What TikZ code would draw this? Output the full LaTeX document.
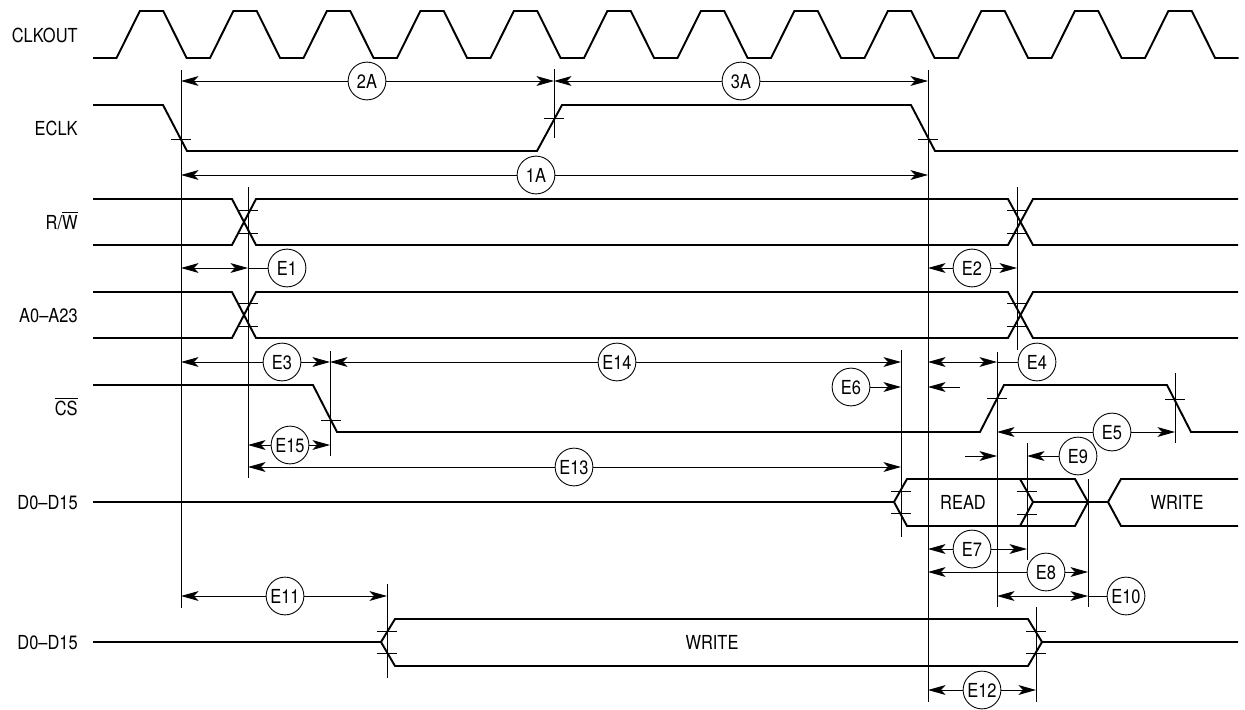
\documentclass[tikz,border=0pt]{standalone}
\usepackage{fontspec}
\setmainfont{TeX Gyre Heros}[FakeStretch=0.85]
\usetikzlibrary{arrows.meta}

\begin{document}
\begin{tikzpicture}[
  x=0.02cm, y=-0.02cm,
  >={Stealth[length=10pt,width=5.6pt,inset=2.6pt]},
  sig/.style={line width=1.1pt},
  ref/.style={line width=0.5pt},
  tick/.style={line width=0.5pt},
  dim/.style={line width=0.5pt},
  lbl/.style={anchor=east,inner sep=0pt,text height=8.1pt,text depth=0pt,font=\fontsize{11}{13}\selectfont},
  txt/.style={inner sep=0pt,text height=8.1pt,text depth=0pt,font=\fontsize{11}{13}\selectfont},
  tag/.style={circle,draw,line width=0.5pt,fill=white,minimum size=21.5pt,inner sep=0pt,text height=8.1pt,text depth=0pt,font=\fontsize{11}{13}\selectfont},
]
\useasboundingbox (0,0) rectangle (1245,710);

% Signal names
\node[lbl] (nclk) at (78,35) {CLKOUT};
\node[lbl] (neclk) at (78,128) {ECLK};
\node[lbl] (nrw) at (78,222) {R/$\overline{\mbox{W}}$};
\node[lbl] (naddr) at (78,315) {A0--A23};
\node[lbl] (ncs) at (78,408) {$\overline{\mbox{CS}}$};
\node[lbl] (nread) at (78,502) {D0--D15};
\node[lbl] (nwrite) at (78,642) {D0--D15};

% Reference instants
\coordinate (fall1) at (181,0);
\coordinate (rise1) at (554,0);
\coordinate (fall2) at (928,0);
\coordinate (addr) at (248,0);
\coordinate (addrh) at (1017,0);
\coordinate (csa) at (330,0);
\coordinate (csn) at (997,0);
\coordinate (csn2) at (1175,0);
\coordinate (rdv) at (901,0);
\coordinate (rdh) at (1027,0);
\coordinate (rdz) at (1088,0);
\coordinate (wrv) at (387,0);
\coordinate (wrh) at (1036,0);

% CLKOUT
\draw[sig] (93,58) -- (116.5,58)
  \foreach \k in {0,...,11} {-- ++(23.375,-47) -- ++(23.375,0) -- ++(23.375,47) -- ++(23.375,0)};

% ECLK
\draw[sig] (93,105) -- (163,105) -- (187,151) -- (537,151) -- (562,105) -- (911,105) -- (935,151) -- (1238,151);

% R/W and address bus
\draw[sig] (93,199) -- (232,199) -- (256,245) -- (1008,245) -- (1033,199) -- (1238,199);
\draw[sig] (93,245) -- (232,245) -- (256,199) -- (1008,199) -- (1033,245) -- (1238,245);
\draw[sig] (93,292) -- (232,292) -- (256,338) -- (1008,338) -- (1033,292) -- (1238,292);
\draw[sig] (93,338) -- (232,338) -- (256,292) -- (1008,292) -- (1033,338) -- (1238,338);

% CS
\draw[sig] (93,385) -- (313,385) -- (337,432) -- (980,432) -- (1004,385) -- (1167,385) -- (1191,432) -- (1238,432);

% Read data
\draw[sig] (93,502) -- (894,502) -- (907,479) -- (1075,479) -- (1088,502) -- (1108,502) -- (1121,479) -- (1238,479);
\draw[sig] (894,502) -- (907,526) -- (1075,526) -- (1088,502);
\draw[sig] (1108,502) -- (1121,526) -- (1238,526);
\draw[sig] (1020,479) -- (1033,502) -- (1020,526);
\draw[sig] (1033,502) -- (1088,502);
\node[txt] (tread) at (963,502) {READ};
\node[txt] (twrite1) at (1177,502) {WRITE};

% Write data
\draw[sig] (93,642) -- (381,642) -- (395,619) -- (1028,619) -- (1042,642) -- (1238,642);
\draw[sig] (381,642) -- (395,666) -- (1028,666) -- (1042,642);
\node[txt] (twrite2) at (712,642) {WRITE};

% Reference lines
\draw[ref] (fall1 |- 0,70) -- (fall1 |- 0,608);
\draw[ref] (rise1 |- 0,69) -- (rise1 |- 0,138);
\draw[ref] (fall2 |- 0,70) -- (fall2 |- 0,702);
\draw[ref] (addr |- 0,187) -- (addr |- 0,478);
\draw[ref] (addrh |- 0,187) -- (addrh |- 0,350);
\draw[ref] (csa |- 0,351) -- (csa |- 0,456);
\draw[ref] (rdv |- 0,350) -- (rdv |- 0,537);
\draw[ref] (csn |- 0,352) -- (csn |- 0,607);
\draw[ref] (csn2 |- 0,373) -- (csn2 |- 0,443);
\draw[ref] (rdh |- 0,443) -- (rdh |- 0,560);
\draw[ref] (rdz |- 0,479) -- (rdz |- 0,607);
\draw[ref] (wrv |- 0,584) -- (wrv |- 0,678);
\draw[ref] (wrh |- 0,607) -- (wrh |- 0,702);

% Crossing ticks
\foreach \x/\y in {181/139, 554/118, 928/139, 248/210, 248/233, 1017/210, 1017/233,
  248/303, 248/326, 1017/303, 1017/326, 331/420, 997/398, 1175/399,
  901/491, 901/513, 1027/491, 1027/514, 387/631, 387/653, 1036/631, 1036/653}
  \draw[tick] (\x-10,\y) -- (\x+10,\y);

% Timing dimensions
\draw[dim,<->] (fall1 |- 0,81) -- (rise1 |- 0,81);
\draw[dim,<->] (rise1 |- 0,81) -- (fall2 |- 0,81);
\node[tag] (a2) at (367,81) {2A};
\node[tag] (a3) at (741,81) {3A};

\draw[dim,<->] (fall1 |- 0,175) -- (fall2 |- 0,175);
\node[tag] (a1) at (536,175) {1A};

\node[tag] (e1) at (287,268) {E1};
\draw[dim,<->] (fall1 |- 0,268) -- (addr |- 0,268);
\draw[dim] (addr |- 0,268) -- (e1);
\draw[dim,<->] (fall2 |- 0,268) -- (addrh |- 0,268);
\node[tag] (e2) at (972,268) {E2};

\draw[dim,<->] (fall1 |- 0,362) -- (csa |- 0,362);
\node[tag] (e3) at (282,362) {E3};
\draw[dim,<->] (csa |- 0,362) -- (rdv |- 0,362);
\node[tag] (e14) at (617,362) {E14};
\node[tag] (e4) at (1037,362) {E4};
\draw[dim,<->] (fall2 |- 0,362) -- (csn |- 0,362);
\draw[dim] (csn |- 0,362) -- (e4);

\node[tag] (e6) at (851,387) {E6};
\draw[dim,->] (e6) -- (rdv |- e6);
\coordinate (e6r) at (960,387);
\draw[dim,->] (e6r) -- (fall2 |- e6r);

\draw[dim,<->] (csn |- 0,432) -- (csn2 |- 0,432);
\node[tag] (e5) at (1112,432) {E5};

\draw[dim,<->] (addr |- 0,445) -- (csa |- 0,445);
\node[tag] (e15) at (290,445) {E15};

\coordinate (e9l) at (965,456);
\draw[dim,->] (e9l) -- (csn |- e9l);
\node[tag] (e9) at (1078,456) {E9};
\draw[dim,->] (e9) -- (rdh |- e9);

\draw[dim,<->] (addr |- 0,467) -- (rdv |- 0,467);
\node[tag] (e13) at (574,467) {E13};

\draw[dim,<->] (fall2 |- 0,549) -- (rdh |- 0,549);
\node[tag] (e7) at (972,549) {E7};
\draw[dim,<->] (fall2 |- 0,572) -- (rdz |- 0,572);
\node[tag] (e8) at (1046,572) {E8};

\node[tag] (e10) at (1126,596) {E10};
\draw[dim,<->] (csn |- 0,596) -- (rdz |- 0,596);
\draw[dim] (rdz |- 0,596) -- (e10);

\draw[dim,<->] (fall1 |- 0,596) -- (wrv |- 0,596);
\node[tag] (e11) at (285,596) {E11};

\draw[dim,<->] (fall2 |- 0,690) -- (wrh |- 0,690);
\node[tag] (e12) at (982,690) {E12};

\end{tikzpicture}
\end{document}
